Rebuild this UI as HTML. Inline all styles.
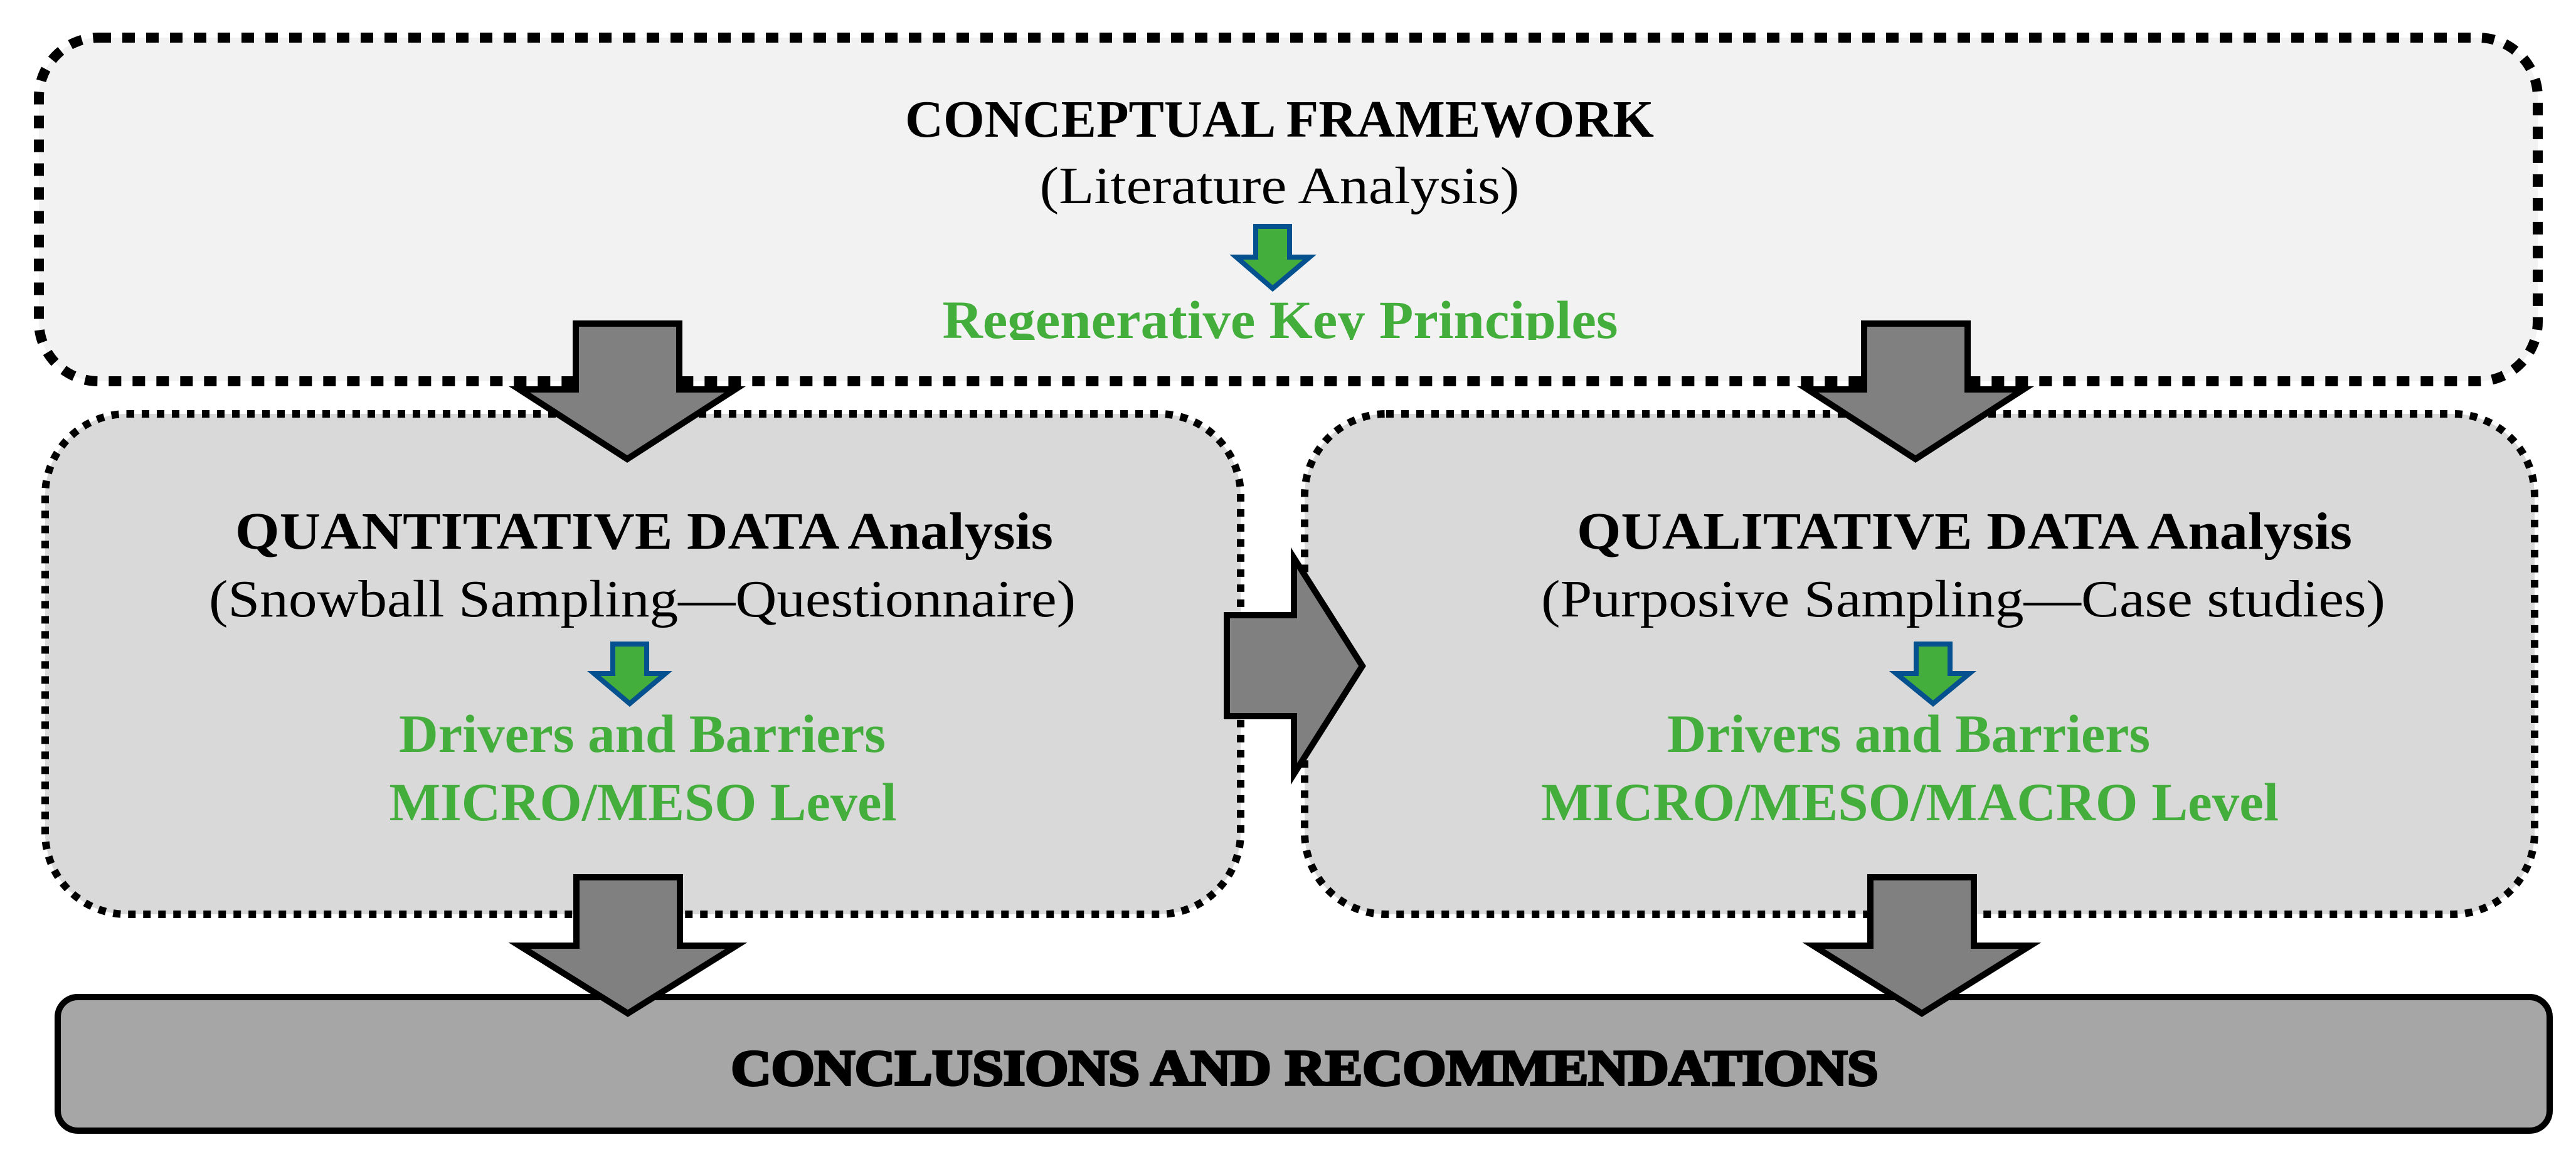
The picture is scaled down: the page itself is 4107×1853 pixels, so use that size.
<!DOCTYPE html>
<html><head><meta charset="utf-8"><style>html,body{margin:0;padding:0;background:#fff}svg{display:block}</style></head>
<body>
<svg width="4107" height="1853" viewBox="0 0 4107 1853" xmlns="http://www.w3.org/2000/svg">
<defs><clipPath id="c1"><rect x="0" y="0" width="4107" height="542"/></clipPath></defs>
<!-- top box -->
<rect x="62" y="60" width="3984" height="548" rx="95" fill="#f2f2f2" stroke="#000" stroke-width="16" stroke-dasharray="20 18"/>
<!-- middle boxes -->
<rect x="72" y="660" width="1906" height="798" rx="130" fill="#d9d9d9" stroke="#000" stroke-width="12" stroke-dasharray="12 12"/>
<rect x="2080" y="660" width="1961" height="798" rx="130" fill="#d9d9d9" stroke="#000" stroke-width="12" stroke-dasharray="12 12"/>
<!-- conclusions -->
<rect x="92" y="1590" width="3973" height="213" rx="32" fill="#a6a6a6" stroke="#000" stroke-width="10"/>

<g font-family="Liberation Serif, serif" text-anchor="middle">
<text x="2040" y="218" font-size="84" font-weight="bold" textLength="1194" lengthAdjust="spacingAndGlyphs">CONCEPTUAL FRAMEWORK</text>
<text x="2040" y="324" font-size="84" textLength="765" lengthAdjust="spacingAndGlyphs">(Literature Analysis)</text>
<text x="2041" y="539" font-size="86" font-weight="bold" fill="#44ae3c" clip-path="url(#c1)" textLength="1077" lengthAdjust="spacingAndGlyphs">Regenerative Key Principles</text>

<text x="1027" y="875" font-size="84" font-weight="bold" textLength="1304" lengthAdjust="spacingAndGlyphs">QUANTITATIVE DATA Analysis</text>
<text x="1024" y="983" font-size="84" textLength="1382" lengthAdjust="spacingAndGlyphs">(Snowball Sampling—Questionnaire)</text>
<text x="1024" y="1199" font-size="86" font-weight="bold" fill="#44ae3c" textLength="776" lengthAdjust="spacingAndGlyphs">Drivers and Barriers</text>
<text x="1025" y="1308" font-size="86" font-weight="bold" fill="#44ae3c" textLength="809" lengthAdjust="spacingAndGlyphs">MICRO/MESO Level</text>

<text x="3132" y="875" font-size="84" font-weight="bold" textLength="1236" lengthAdjust="spacingAndGlyphs">QUALITATIVE DATA Analysis</text>
<text x="3130" y="983" font-size="84" textLength="1346" lengthAdjust="spacingAndGlyphs">(Purposive Sampling—Case studies)</text>
<text x="3043" y="1199" font-size="86" font-weight="bold" fill="#44ae3c" textLength="770" lengthAdjust="spacingAndGlyphs">Drivers and Barriers</text>
<text x="3045" y="1308" font-size="86" font-weight="bold" fill="#44ae3c" textLength="1176" lengthAdjust="spacingAndGlyphs">MICRO/MESO/MACRO Level</text>

<text x="2080" y="1730" font-size="80" font-weight="bold" stroke="#000" stroke-width="4" textLength="1829" lengthAdjust="spacingAndGlyphs">CONCLUSIONS AND RECOMMENDATIONS</text>
</g>

<!-- green arrows -->
<g fill="#44ae3c" stroke="#05508f" stroke-width="8" stroke-linejoin="miter">
<polygon points="2002,361 2056,361 2056,410 2088,410 2029,460 1971,410 2002,410"/>
<polygon points="977,1027 1031,1027 1031,1074 1061,1074 1004,1122 947,1074 977,1074"/>
<polygon points="3055,1027 3109,1027 3109,1074 3140,1074 3082,1122 3023,1074 3055,1074"/>
</g>

<!-- grey arrows -->
<g fill="#808080" stroke="#000" stroke-width="10" stroke-linejoin="miter">
<polygon points="918,516 1083,516 1083,621 1172,621 1000,732 828,621 918,621"/>
<polygon points="2972,516 3137,516 3137,621 3226,621 3054,732 2882,621 2972,621"/>
<polygon points="919,1399 1084,1399 1084,1508 1174,1508 1001,1616 828,1508 919,1508"/>
<polygon points="2982,1399 3147,1399 3147,1508 3237,1508 3064,1616 2891,1508 2982,1508"/>
<polygon points="1956,981 2063,981 2063,890 2172,1062 2063,1234 2063,1142 1956,1142"/>
</g>
</svg>
</body></html>
